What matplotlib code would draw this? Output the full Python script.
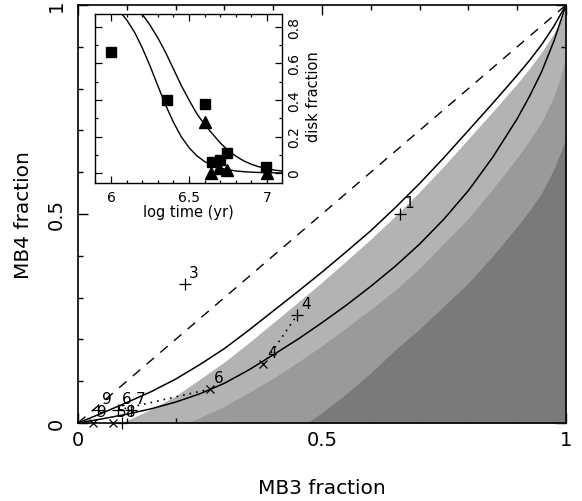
import matplotlib
matplotlib.use("Agg")
import matplotlib.pyplot as plt
from matplotlib.ticker import MultipleLocator

# ---------------- data ----------------
# main panel: model curves
diag_x = [0.0, 1.0]
diag_y = [0.0, 1.0]

upper_x = [0, 0.05, 0.10, 0.15, 0.20, 0.25, 0.30, 0.35, 0.40, 0.45, 0.50,
           0.55, 0.60, 0.65, 0.70, 0.75, 0.80, 0.85, 0.90, 0.925, 0.95, 0.975, 1.0]
upper_y = [0, 0.024, 0.049, 0.075, 0.105, 0.14, 0.178, 0.222, 0.268, 0.314, 0.361,
           0.41, 0.46, 0.515, 0.573, 0.635, 0.70, 0.765, 0.832, 0.867, 0.905, 0.949, 1.0]

mid_x = [0, 0.05, 0.10, 0.15, 0.20, 0.25, 0.30, 0.35, 0.40, 0.45, 0.50,
         0.55, 0.60, 0.65, 0.70, 0.75, 0.80, 0.85, 0.90, 0.925, 0.95, 0.975, 1.0]
mid_y = [0, 0.01, 0.021, 0.034, 0.05, 0.07, 0.095, 0.127, 0.163, 0.20, 0.24,
         0.282, 0.327, 0.375, 0.428, 0.488, 0.556, 0.636, 0.728, 0.781, 0.84, 0.913, 1.0]

# shaded regions (upper boundaries)
band1_x = [0, 0.085, 0.10, 0.15, 0.20, 0.25, 0.30, 0.35, 0.40, 0.45, 0.50,
           0.55, 0.60, 0.65, 0.70, 0.75, 0.80, 0.85, 0.90, 0.925, 0.95, 0.975, 1.0]
band1_y = [0, 0, 0.006, 0.033, 0.065, 0.105, 0.146, 0.192, 0.24, 0.288, 0.337,
           0.388, 0.44, 0.495, 0.553, 0.615, 0.68, 0.745, 0.812, 0.848, 0.887, 0.932, 0.99]

band2_x = [0.20, 0.225, 0.25, 0.30, 0.35, 0.40, 0.45, 0.50, 0.55, 0.60, 0.65,
           0.70, 0.75, 0.80, 0.85, 0.90, 0.925, 0.95, 0.975, 0.99, 1.0]
band2_y = [0, 0, 0.013, 0.04, 0.073, 0.107, 0.145, 0.185, 0.228, 0.272, 0.318,
           0.37, 0.43, 0.49, 0.56, 0.635, 0.675, 0.72, 0.78, 0.83, 0.88]

band3_x = [0.45, 0.47, 0.50, 0.55, 0.60, 0.65, 0.70, 0.75, 0.80, 0.85, 0.90,
           0.925, 0.95, 0.975, 1.0]
band3_y = [0, 0, 0.025, 0.07, 0.12, 0.175, 0.225, 0.28, 0.335, 0.40, 0.47,
           0.508, 0.55, 0.607, 0.68]

# main panel: labelled points
plus_x = [0.66, 0.219, 0.449, 0.041, 0.082, 0.109, 0.09]
plus_y = [0.50, 0.333, 0.258, 0.031, 0.031, 0.031, 0.0]
plus_lab = ["1", "3", "4", "9", "6", "7", "8"]

cross_x = [0.38, 0.27, 0.031, 0.071]
cross_y = [0.141, 0.081, 0.0, 0.0]
cross_lab = ["4", "6", "9", "5"]

pair4_x = [0.38, 0.449]
pair4_y = [0.141, 0.258]
pair6_x = [0.082, 0.27]
pair6_y = [0.031, 0.081]

# inset: disk fraction vs log time
sq_t = [6.0, 6.36, 6.605, 6.644, 6.701, 6.744, 6.994]
sq_f = [0.665, 0.40, 0.378, 0.062, 0.071, 0.108, 0.035]
tri_t = [6.6, 6.64, 6.695, 6.744, 7.0]
tri_f = [0.28, 0.0, 0.03, 0.018, 0.0]

curveA_t = [6.00, 6.05, 6.10, 6.15, 6.20, 6.25, 6.30, 6.35, 6.40, 6.45, 6.50, 6.55,
            6.60, 6.65, 6.70, 6.75, 6.80, 6.85, 6.90, 6.95, 7.00, 7.05, 7.10]
curveA_f = [0.926, 0.89, 0.839, 0.772, 0.686, 0.586, 0.478, 0.372, 0.278, 0.199, 0.139,
            0.0945, 0.063, 0.042, 0.0275, 0.018, 0.0118, 0.0076, 0.005, 0.0032, 0.002,
            0.0013, 0.0009]
curveB_t = [6.15, 6.20, 6.25, 6.30, 6.35, 6.40, 6.45, 6.50, 6.55, 6.60, 6.65, 6.70,
            6.75, 6.80, 6.85, 6.90, 6.95, 7.00, 7.05, 7.10]
curveB_f = [0.92, 0.87, 0.81, 0.74, 0.66, 0.57, 0.48, 0.40, 0.325, 0.265, 0.215, 0.165,
            0.125, 0.093, 0.067, 0.048, 0.034, 0.024, 0.016, 0.011]

# ---------------- figure ----------------
plt.rcParams['font.family'] = ['DejaVu Sans']
fig = plt.figure(figsize=(5.82, 5.02), dpi=100)
ax = fig.add_axes([78/582, 78/502, 488/582, 418/502])

light, medium, dark = "#b3b3b3", "#9a9a9a", "#7a7a7a"
ax.fill_between(band1_x, band1_y, 0, color=light, lw=0, zorder=1)
ax.fill_between(band2_x, band2_y, 0, color=medium, lw=0, zorder=2)
ax.fill_between(band3_x, band3_y, 0, color=dark, lw=0, zorder=3)

ax.plot(diag_x, diag_y, color="black", lw=1.0, dashes=(7, 6), zorder=5)
ax.plot(upper_x, upper_y, color="black", lw=1.1, zorder=5)
ax.plot(mid_x, mid_y, color="black", lw=1.1, zorder=5)
ax.plot(pair4_x, pair4_y, color="black", lw=1.2, ls=(0, (1, 3)), zorder=5)
ax.plot(pair6_x, pair6_y, color="black", lw=1.2, ls=(0, (1, 3)), zorder=5)

ax.plot(plus_x, plus_y, ls="none", marker="+", ms=9, mew=0.9, color="black",
        zorder=6, clip_on=False)
ax.plot(cross_x, cross_y, ls="none", marker="x", ms=6, mew=0.9, color="black",
        zorder=6, clip_on=False)
for x, y, s in list(zip(plus_x, plus_y, plus_lab)) + list(zip(cross_x, cross_y, cross_lab)):
    ax.annotate(s, (x, y), xytext=(3, 3), textcoords="offset points",
                fontsize=11, ha="left", va="bottom", zorder=7)

ax.set_xlim(0, 1)
ax.set_ylim(0, 1)
ax.set_xticks([0, 0.5, 1])
ax.set_xticklabels(["0", "0.5", "1"])
ax.set_yticks([0, 0.5, 1])
ax.set_yticklabels(["0", "0.5", "1"])
ax.xaxis.set_minor_locator(MultipleLocator(0.1))
ax.yaxis.set_minor_locator(MultipleLocator(0.1))
ax.tick_params(which="both", direction="in", top=True, right=True, width=1.0,
               labelsize=14)
ax.tick_params(which="major", length=7)
ax.tick_params(which="minor", length=3.6)
ax.tick_params(axis="x", pad=5)
ax.tick_params(axis="y", pad=9)
for t in ax.get_yticklabels():
    t.set_rotation(90)
    t.set_va("center")
for sp in ax.spines.values():
    sp.set_linewidth(1.2)
    sp.set_zorder(8)

ax.set_xlabel("MB3 fraction", fontsize=14.5)
ax.xaxis.label.set_va("center")
ax.xaxis.set_label_coords(0.5, (424 - 489) / 418)
ax.set_ylabel("MB4 fraction", fontsize=14.5)
ax.yaxis.label.set_va("center")
ax.yaxis.label.set_ha("center")
ax.yaxis.set_label_coords((24 - 78) / 488, 0.5)

# ---------------- inset ----------------
ax2 = fig.add_axes([95/582, (502 - 184.3)/502, (282 - 95)/582, (184.3 - 15)/502])
ax2.set_zorder(10)
ax2.plot(curveA_t, curveA_f, color="black", lw=1.0)
ax2.plot(curveB_t, curveB_f, color="black", lw=1.0)
ax2.plot(sq_t, sq_f, ls="none", marker="s", ms=6.5, color="black")
ax2.plot(tri_t, tri_f, ls="none", marker="^", ms=8, color="black")
ax2.set_xlim(5.897, 7.096)
ax2.set_ylim(-0.056, 0.871)
ax2.set_xticks([6, 6.5, 7])
ax2.set_xticklabels(["6", "6.5", "7"])
ax2.set_yticks([0, 0.2, 0.4, 0.6, 0.8])
ax2.set_yticklabels(["0", "0.2", "0.4", "0.6", "0.8"])
ax2.xaxis.set_minor_locator(MultipleLocator(0.1))
ax2.yaxis.set_minor_locator(MultipleLocator(0.1))
ax2.tick_params(which="both", direction="in", top=True, right=True, left=True,
                labelleft=False, labelright=True, labelsize=10, width=0.9)
ax2.tick_params(which="major", length=5)
ax2.tick_params(which="minor", length=2.5)
ax2.tick_params(axis="x", pad=5)
ax2.tick_params(axis="y", pad=4)
for t in ax2.get_yticklabels():
    t.set_rotation(90)
    t.set_va("center")
for sp in ax2.spines.values():
    sp.set_linewidth(1.0)
ax2.set_xlabel("log time (yr)", fontsize=10.5)
ax2.xaxis.label.set_va("center")
ax2.xaxis.set_label_coords(0.5, (184.3 - 213) / 169.3)
ax2.yaxis.set_label_position("right")
ax2.set_ylabel("disk fraction", fontsize=10.5, rotation=90)
ax2.yaxis.label.set_va("center")
ax2.yaxis.label.set_ha("center")
ax2.yaxis.set_label_coords(1 + (313 - 282) / 187, 0.52)

fig.savefig("out.png", dpi=100)
